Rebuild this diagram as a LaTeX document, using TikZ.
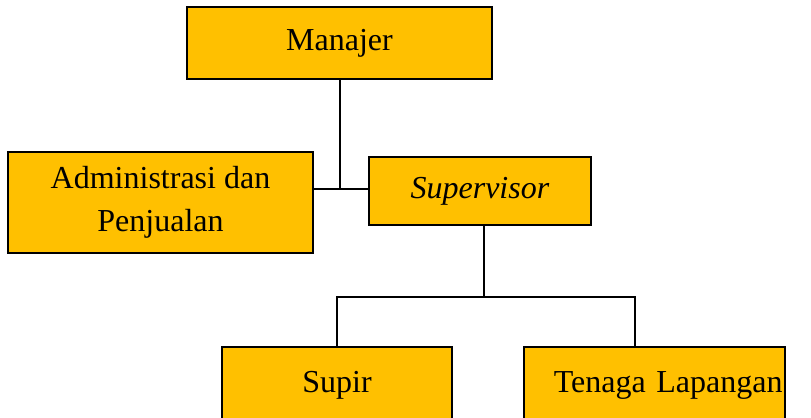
\documentclass[tikz,border=0pt]{standalone}
\usepackage{fontspec}
\setmainfont{Liberation Serif}
\definecolor{unitGold}{HTML}{FFC000}
\colorlet{unitEdge}{black}

\begin{document}
\begin{tikzpicture}[
  x=0.5pt,
  y=-0.5pt,
  unit/.style={
    rectangle,
    draw=unitEdge,
    line width=1.2pt,
    fill=unitGold,
    inner sep=0pt,
    align=center,
    font=\fontsize{16}{21.5}\selectfont,
  },
  link/.style={
    draw=black,
    line width=0.9pt,
  }
]
\useasboundingbox (0,0) rectangle (811,418);
\clip (0,0) rectangle (811,418);

\node[unit,minimum width=152.5pt,minimum height=36pt] (manajer) at (339.5,43) {Manajer};
\node[unit,minimum width=152.5pt,minimum height=50.5pt] (admin) at (160.5,202.5) {Administrasi dan\\Penjualan};
\node[unit,minimum width=111pt,minimum height=34pt] (supervisor) at (480,191) {\textit{Supervisor}};
\node[unit,minimum width=115pt,minimum height=38pt] (supir) at (337,385) {Supir};
\node[unit,text width=128pt,inner xsep=1.25pt,align=right,minimum height=38pt] (tenaga) at (654.5,385) {Tenaga Lapangan};

% garis ke manajer
\coordinate (hub) at (340,189);
\draw[link] (manajer.south -| hub) -- (hub);
\draw[link] (admin.east |- hub) -- (supervisor.west |- hub);

% garis ke bawahan supervisor
\coordinate (split) at (484,297);
\coordinate (right) at (635,297);
\draw[link] (supervisor.south -| split) -- (split);
\draw[link] (supir.north) |- (right) -- (right |- tenaga.north);
\end{tikzpicture}
\end{document}
